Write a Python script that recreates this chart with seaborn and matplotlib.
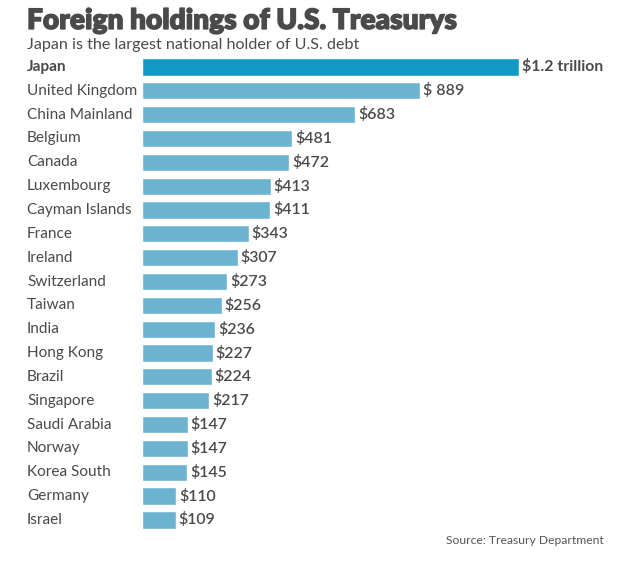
import seaborn as sns
import pandas as pd
import matplotlib.pyplot as plt
import matplotlib.patheffects as pe

# ------------------------------ data ------------------------------
countries = ["Japan", "United Kingdom", "China Mainland", "Belgium", "Canada",
             "Luxembourg", "Cayman Islands", "France", "Ireland", "Switzerland",
             "Taiwan", "India", "Hong Kong", "Brazil", "Singapore",
             "Saudi Arabia", "Norway", "Korea South", "Germany", "Israel"]
holdings = [1208, 889, 683, 481, 472, 413, 411, 343, 307, 273,
            256, 236, 227, 224, 217, 147, 147, 145, 110, 109]
value_labels = ["$1.2 trillion", "$ 889", "$683", "$481", "$472", "$413", "$411",
                "$343", "$307", "$273", "$256", "$236", "$227", "$224", "$217",
                "$147", "$147", "$145", "$110", "$109"]

df = pd.DataFrame({"country": countries, "holdings": holdings})

text_col = "#4a4a4a"
colors = ["#1199c6"] + ["#6cb3d1"] * (len(countries) - 1)

sns.set_style("white")
plt.rcParams["font.family"] = ["Lato", "DejaVu Sans"]

fig = plt.figure(figsize=(6.38, 5.67), dpi=100)
ax = fig.add_axes([0.222, 0.062, 0.778, 0.841])

# ------------------------------ bars ------------------------------
sns.barplot(data=df, x="holdings", y="country", hue="country", palette=colors,
            orient="h", width=0.72, legend=False, saturation=1, ax=ax)

ax.set_xlim(0, 1588)
ax.set_ylim(len(countries) - 0.5, -0.5)
ax.set_xlabel("")
ax.set_ylabel("")
ax.set_xticks([])
ax.set_yticks([])
for s in ax.spines.values():
    s.set_visible(False)

# ------------------------------ labels ------------------------------
for i, (c, v, lab) in enumerate(zip(countries, holdings, value_labels)):
    w = "bold" if i == 0 else "normal"
    ax.annotate(c, xy=(0, i), xycoords=("figure fraction", "data"),
                xytext=(27, 0), textcoords="offset pixels",
                fontsize=11.1, color=text_col, fontweight=w, va="center", ha="left")
    ax.annotate(lab, xy=(v, i), xytext=(3, 0), textcoords="offset pixels",
                fontsize=11.4, color=text_col, fontweight="bold" if i == 0 else "semibold",
                va="center", ha="left")

title = fig.text(27 / 638, 1 - 29 / 567, "Foreign holdings of U.S. Treasurys",
                 fontsize=20.2, fontweight="heavy", color=text_col,
                 ha="left", va="baseline")
title.set_path_effects([pe.withStroke(linewidth=0.9, foreground=text_col)])
fig.text(27 / 638, 1 - 49 / 567, "Japan is the largest national holder of U.S. debt",
         fontsize=11.6, color=text_col, ha="left", va="baseline")
fig.text(604 / 638, 1 - 544 / 567, "Source: Treasury Department", fontsize=8.7,
         color="#555555", ha="right", va="baseline")

fig.savefig("out.png", dpi=100, facecolor="white")
